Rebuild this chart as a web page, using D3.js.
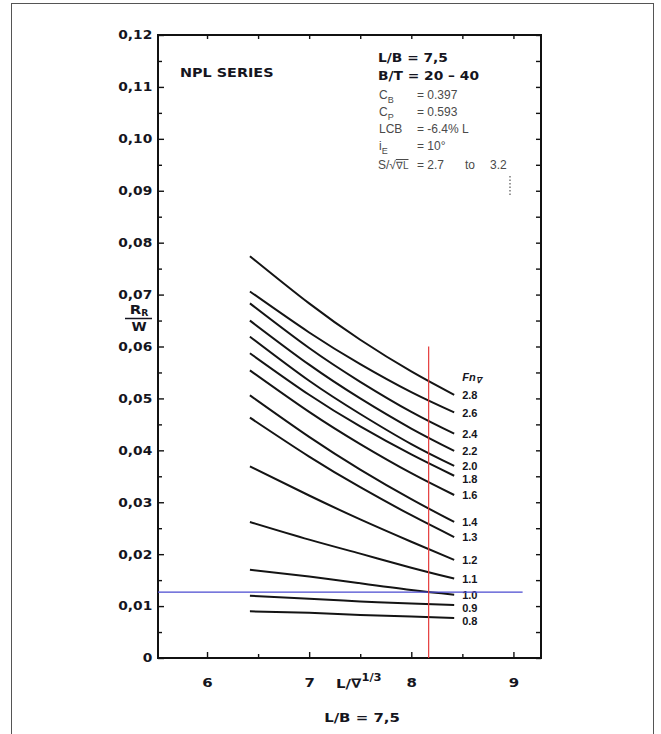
<!DOCTYPE html>
<html>
<head>
<meta charset="utf-8">
<title>NPL series - residuary resistance</title>
<script src="https://cdn.jsdelivr.net/npm/d3@7"></script>
<style>
  body { margin: 0; background: #fff; }
  svg { display: block; }
  .tick line { stroke: #111; stroke-width: 1.4px; }
  .tick text { font-family: "DejaVu Sans", sans-serif; font-weight: bold; font-size: 12px; fill: #151520; }
</style>
</head>
<body>
<svg id="chart"></svg>
<script>
const WIDTH = 661;
const HEIGHT = 734;

// L/vol^(1/3) stations where the curves were read
const lvPoints = [6.42, 7.0, 7.5, 8.0, 8.42];

// Froude number (volume) of each curve, top to bottom
const fnLabels = ["2.8", "2.6", "2.4", "2.2", "2.0", "1.8", "1.6", "1.4", "1.3", "1.2", "1.1", "1.0", "0.9", "0.8"];

// R_R / W at lvPoints, one row per Fn
const rrSeries = [
  [0.0774, 0.0683, 0.0613, 0.0552, 0.0507],
  [0.0706, 0.0627, 0.0566, 0.0512, 0.0473],
  [0.0683, 0.0597, 0.0532, 0.0474, 0.0432],
  [0.0650, 0.0565, 0.0500, 0.0442, 0.0399],
  [0.0619, 0.0534, 0.0470, 0.0412, 0.0370],
  [0.0587, 0.0507, 0.0446, 0.0392, 0.0351],
  [0.0554, 0.0474, 0.0412, 0.0356, 0.0314],
  [0.0506, 0.0426, 0.0363, 0.0306, 0.0262],
  [0.0463, 0.0388, 0.0329, 0.0275, 0.0233],
  [0.0369, 0.0313, 0.0267, 0.0224, 0.0189],
  [0.0262, 0.0228, 0.0201, 0.0174, 0.0153],
  [0.0170, 0.0157, 0.0144, 0.0131, 0.0122],
  [0.0120, 0.0114, 0.0109, 0.0105, 0.0102],
  [0.0090, 0.0087, 0.0083, 0.0080, 0.0077]
];

// axis ticks
const xMajor = [6, 7, 8, 9];
const xMinor = [6.5, 7.5, 8.5];
const yMajor = d3.range(0, 0.1201, 0.01);
const yMinor = d3.range(0.005, 0.12, 0.01);

// reference lines drawn over the scan
const blueLevel = 0.0127;
const blueSpan = [5.52, 9.09];
const redStation = 8.17;
const redSpan = [0, 0.060];

// parameter block
const headerLines = ["L/B = 7,5", "B/T = 20 – 40"];
const paramNames = [["C", "B"], ["C", "P"], ["LCB", ""], ["i", "E"]];
const paramValues = ["= 0.397", "= 0.593", "= -6.4% L", "= 10°"];

const SX = 1.15; // the scan is a little wide, stretch the bold text

const svg = d3.select("#chart")
  .attr("width", WIDTH)
  .attr("height", HEIGHT);

svg.append("rect")
  .attr("width", WIDTH).attr("height", HEIGHT)
  .attr("fill", "#fff");

// outer border of the figure
svg.append("rect")
  .attr("x", 11.5).attr("y", 3.5)
  .attr("width", 642).attr("height", 760)
  .attr("fill", "none")
  .attr("stroke", "#555")
  .attr("stroke-width", 1);

const x = d3.scaleLinear().domain([5.52, 9.27]).range([158, 541]);
const y = d3.scaleLinear().domain([0, 0.12]).range([658, 35]);

function boldText(sel, px, py, str, size, anchor) {
  return sel.append("text")
    .attr("transform", `translate(${px},${py}) scale(${SX},1)`)
    .attr("text-anchor", anchor || "start")
    .style("font-family", "'DejaVu Sans', sans-serif")
    .style("font-weight", "bold")
    .style("font-size", size + "px")
    .style("fill", "#151520")
    .text(str);
}

// axes, ticks pointing into the frame
function tidy(g) {
  g.select(".domain").remove();
}

svg.append("g")
  .attr("transform", `translate(0,${y.range()[0]})`)
  .call(d3.axisBottom(x).tickValues(xMajor).tickSizeInner(-6).tickSizeOuter(0).tickPadding(20).tickFormat(d3.format("d")))
  .call(tidy)
  .call(g => g.selectAll(".tick text").attr("transform", `scale(${SX},1)`).style("font-size", "13px"));

svg.append("g")
  .attr("transform", `translate(0,${y.range()[0]})`)
  .call(d3.axisBottom(x).tickValues(xMinor).tickSizeInner(-4).tickSizeOuter(0).tickFormat(""))
  .call(tidy);

svg.append("g")
  .attr("transform", `translate(0,${y.range()[1]})`)
  .call(d3.axisTop(x).tickValues(xMajor.concat(xMinor)).tickSizeInner(-4).tickSizeOuter(0).tickFormat(""))
  .call(tidy);

svg.append("g")
  .attr("transform", `translate(${x.range()[0]},0)`)
  .call(d3.axisLeft(y).tickValues(yMajor).tickSizeInner(-6).tickSizeOuter(0).tickPadding(5)
    .tickFormat(d => d === 0 ? "0" : d3.format(".2f")(d).replace(".", ",")))
  .call(tidy)
  .call(g => g.selectAll(".tick text").attr("transform", `scale(${SX},1)`));

svg.append("g")
  .attr("transform", `translate(${x.range()[0]},0)`)
  .call(d3.axisLeft(y).tickValues(yMinor).tickSizeInner(-4).tickSizeOuter(0).tickFormat(""))
  .call(tidy);

svg.append("g")
  .attr("transform", `translate(${x.range()[1]},0)`)
  .call(d3.axisRight(y).tickValues(yMajor.concat(yMinor)).tickSizeInner(-5).tickSizeOuter(0).tickFormat(""))
  .call(tidy);

// plot frame
svg.append("rect")
  .attr("x", x.range()[0]).attr("y", y.range()[1])
  .attr("width", x.range()[1] - x.range()[0])
  .attr("height", y.range()[0] - y.range()[1])
  .attr("fill", "none")
  .attr("stroke", "#111")
  .attr("stroke-width", 2);

// curves
const line = d3.line()
  .x((d, i) => x(lvPoints[i]))
  .y(d => y(d))
  .curve(d3.curveNatural);

svg.append("g")
  .selectAll("path")
  .data(rrSeries)
  .join("path")
  .attr("d", line)
  .attr("fill", "none")
  .attr("stroke", "#141414")
  .attr("stroke-width", 2);

// Fn labels at the right end of each curve, pushed apart where they crowd
const lastX = lvPoints[lvPoints.length - 1];
const labelGap = 13;
const labelY = [];
rrSeries.forEach((d, i) => {
  let ly = y(d[d.length - 1]);
  if (i > 0 && ly < labelY[i - 1] + labelGap) ly = labelY[i - 1] + labelGap;
  labelY.push(ly);
});

svg.append("g")
  .selectAll("text")
  .data(fnLabels)
  .join("text")
  .attr("x", x(lastX) + 8)
  .attr("y", (d, i) => labelY[i])
  .attr("dy", "0.38em")
  .style("font-family", "'Liberation Sans', Arial, sans-serif")
  .style("font-weight", "bold")
  .style("font-size", "11px")
  .style("fill", "#151520")
  .text(d => d);

const fnHead = svg.append("text")
  .attr("x", x(lastX) + 8)
  .attr("y", 381)
  .style("font-family", "'Liberation Sans', Arial, sans-serif")
  .style("font-weight", "bold")
  .style("font-style", "italic")
  .style("font-size", "11px")
  .style("fill", "#151520");
fnHead.append("tspan").text("Fn");
fnHead.append("tspan").attr("dy", 2).style("font-size", "8px").text("∇");

// reference lines
svg.append("line")
  .attr("x1", x(blueSpan[0])).attr("x2", x(blueSpan[1]))
  .attr("y1", y(blueLevel)).attr("y2", y(blueLevel))
  .attr("stroke", "#4a4ad0")
  .attr("stroke-width", 1.2);

svg.append("line")
  .attr("x1", x(redStation)).attr("x2", x(redStation))
  .attr("y1", y(redSpan[1])).attr("y2", y(redSpan[0]))
  .attr("stroke", "#e53a3a")
  .attr("stroke-width", 1.2);

// titles
boldText(svg, 180, 77, "NPL SERIES", 12.5);

headerLines.forEach((s, i) => boldText(svg, 378, 62 + i * 18, s, 12));

const paramG = svg.append("g")
  .style("font-family", "'Liberation Sans', Arial, sans-serif")
  .style("font-size", "12px")
  .style("fill", "#4a4a4a");

paramNames.forEach((p, i) => {
  const t = paramG.append("text").attr("x", 379).attr("y", 99 + i * 17);
  t.append("tspan").text(p[0]);
  if (p[1]) t.append("tspan").attr("dy", 4).style("font-size", "9px").text(p[1]);
  paramG.append("text").attr("x", 417).attr("y", 99 + i * 17).text(paramValues[i]);
});

const sRow = paramG.append("text").attr("x", 378).attr("y", 169);
sRow.append("tspan").text("S/√");
sRow.append("tspan").style("text-decoration", "overline").style("font-size", "10px").text("∇L");
paramG.append("text").attr("x", 417).attr("y", 169).text("= 2.7");
paramG.append("text").attr("x", 465).attr("y", 169).text("to");
paramG.append("text").attr("x", 490).attr("y", 169).text("3.2");

svg.append("line")
  .attr("x1", 510).attr("x2", 510)
  .attr("y1", 176).attr("y2", 196)
  .attr("stroke", "#555")
  .attr("stroke-width", 1.2)
  .attr("stroke-dasharray", "1.5,2");

// y-axis quantity R_R / W
boldText(svg, 139, 314, "R", 13, "middle")
  .append("tspan").attr("dy", 2).style("font-size", "8px").text("R");
svg.append("line")
  .attr("x1", 125).attr("x2", 152)
  .attr("y1", 318.5).attr("y2", 318.5)
  .attr("stroke", "#151520")
  .attr("stroke-width", 1.5);
boldText(svg, 139, 331, "W", 12, "middle");

// x-axis quantity
const xTitle = boldText(svg, 336, 688, "L/∇", 13);
xTitle.append("tspan").attr("dy", -7).style("font-size", "10px").text("1/3");

boldText(svg, 362, 722, "L/B = 7,5", 13, "middle");
</script>
</body>
</html>
